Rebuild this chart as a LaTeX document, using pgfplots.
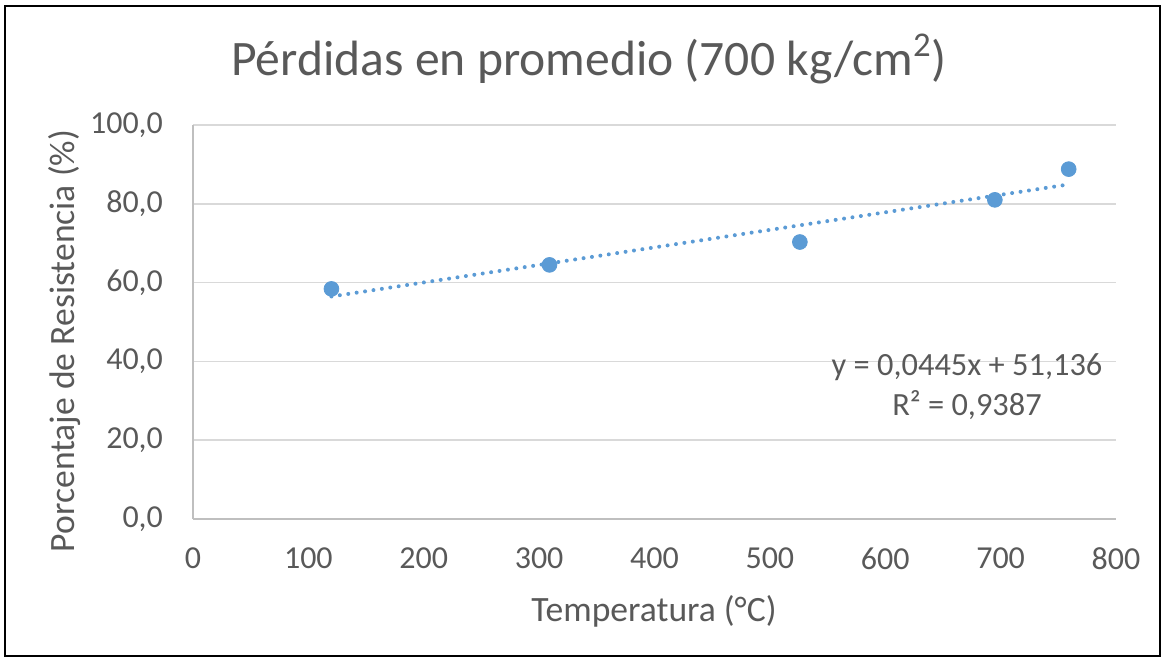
\documentclass[border=0pt]{standalone}
\usepackage{fontspec}
\setmainfont{Carlito}
\usepackage{pgfplots}
\pgfplotsset{compat=1.18}
\definecolor{txt}{HTML}{595959}
\definecolor{grd}{HTML}{D9D9D9}
\definecolor{axl}{HTML}{BFBFBF}
\definecolor{blu}{HTML}{5B9BD5}
\begin{document}
\begin{tikzpicture}
\useasboundingbox (-96.5pt,-70.5pt) rectangle (485.5pt,259.5pt);
\draw[black, line width=1.2pt] (-94pt,-68.5pt) rectangle (483.5pt,256.5pt);
\begin{axis}[
  scale only axis, width=461.5pt, height=197pt,
  xmin=0, xmax=800, ymin=0, ymax=100,
  xtick={0,100,...,800}, ytick={0,20,...,100},
  axis x line*=bottom, axis y line*=left,
  axis line style={axl, line width=0.8pt, -},
  ymajorgrids, grid style={grd, line width=0.8pt},
  major tick length=0pt,
  tick label style={font=\fontsize{16pt}{19pt}\selectfont, text=txt},
  /pgf/number format/assume math mode=true,
  yticklabel style={/pgf/number format/fixed, /pgf/number format/fixed zerofill, /pgf/number format/precision=1, /pgf/number format/use comma, xshift=-11.5pt},
  xticklabel style={/pgf/number format/fixed, /pgf/number format/precision=0, /pgf/number format/1000 sep={}, yshift=-11pt},
  clip=false,
]
\addplot[blu, line width=2pt, line cap=round, dash pattern=on 0pt off 4.25pt] coordinates {(120,56.476) (759,84.912)};
\addplot[only marks, mark=*, mark size=3.7pt, blu, mark options={draw=blu, fill=blu}] coordinates {
(120,58.4) (309,64.5) (526,70.3) (695,81.0) (759,88.8)};
\end{axis}
\node[text=txt, font=\fontsize{24.8pt}{29pt}\selectfont] at (198pt,230pt) {Pérdidas en promedio (700 kg/cm\textsuperscript{2})};
\node[text=txt, font=\fontsize{17.8pt}{21pt}\selectfont, rotate=90] at (-64pt,89pt) {Porcentaje de Resistencia (\%)};
\node[text=txt, font=\fontsize{17.8pt}{21pt}\selectfont] at (230.5pt,-46pt) {Temperatura (°C)};
\node[text=txt, font=\fontsize{16.2pt}{20pt}\selectfont, align=center] at (387pt,66pt) {y = 0,0445x + 51,136\\R² = 0,9387};
\end{tikzpicture}
\end{document}
